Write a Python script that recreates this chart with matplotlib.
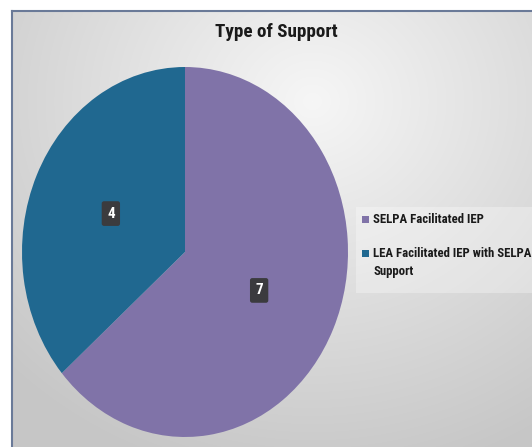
import numpy as np
import matplotlib.pyplot as plt
from matplotlib.patches import Rectangle

# Chart data
categories = ['SELPA Facilitated IEP', 'LEA Facilitated IEP with SELPA\nSupport']
counts = [7, 4]
colors = ['#8073a8', '#206890']
title = 'Type of Support'

W, H = 532, 447
FONT = ['Roboto Condensed', 'DejaVu Sans']

fig = plt.figure(figsize=(W / 100, H / 100), dpi=100)
fig.patch.set_facecolor('white')

# Chart area with soft radial shading
bg = fig.add_axes([12 / W, 0, 1 - 12 / W, 1 - 11 / H])
yy, xx = np.mgrid[0:436, 0:520]
dist = np.sqrt(((xx - 300) / 430.0) ** 2 + ((yy - 90) / 390.0) ** 2)
shade = np.clip(0.965 - 0.19 * dist, 0.78, 0.965)
bg.imshow(np.dstack([shade] * 3), aspect='auto', extent=[0, 1, 0, 1], origin='upper')
bg.set_xlim(0, 1)
bg.set_ylim(0, 1)
bg.axis('off')
bg.plot([0, 0], [0, 1], color='#6a7a98', lw=1.5, transform=bg.transAxes, clip_on=False)
bg.plot([0, 1], [1, 1], color='#6a7a98', lw=1.5, transform=bg.transAxes, clip_on=False)

# Pie (taller than wide)
cx, cy, rx, ry = 185, 252, 163, 185
ax = fig.add_axes([(cx - rx) / W, (H - cy - ry) / H, 2 * rx / W, 2 * ry / H])
total = sum(counts)
wedges, texts, autotexts = ax.pie(
    counts, colors=colors, startangle=90, counterclock=False,
    autopct=lambda p: f'{round(p * total / 100)}', pctdistance=0.5,
    textprops=dict(color='white', fontsize=11, fontweight='bold', family=FONT),
)
for t in autotexts:
    t.set_bbox(dict(boxstyle='round,pad=0.35,rounding_size=0.15', fc='#3b3b3e', ec='none'))
ax.set_aspect('auto')
ax.set_xlim(-1, 1)
ax.set_ylim(-1, 1)

fig.text(276 / W, 1 - 32 / H, title, ha='center', va='center',
         fontsize=13.8, fontweight='bold', family=FONT, color='#1a1a1a')

# Legend panel: square key aligned with the first line of each entry
fig.patches.append(Rectangle((356 / W, 1 - 293 / H), (W - 356) / W, 86 / H,
                             transform=fig.transFigure, fc='white', alpha=0.3, ec='none'))
entry_top = [213, 247]
for label, color, top in zip(categories, colors, entry_top):
    fig.patches.append(Rectangle((362 / W, 1 - (top + 10) / H), 7 / W, 7 / H,
                                 transform=fig.transFigure, fc=color, ec='none'))
    fig.text(373 / W, 1 - top / H, label, ha='left', va='top', linespacing=1.5,
             fontsize=9.2, fontweight='bold', family=FONT, color='#1a1a1a')

fig.savefig('out.png', dpi=100)
